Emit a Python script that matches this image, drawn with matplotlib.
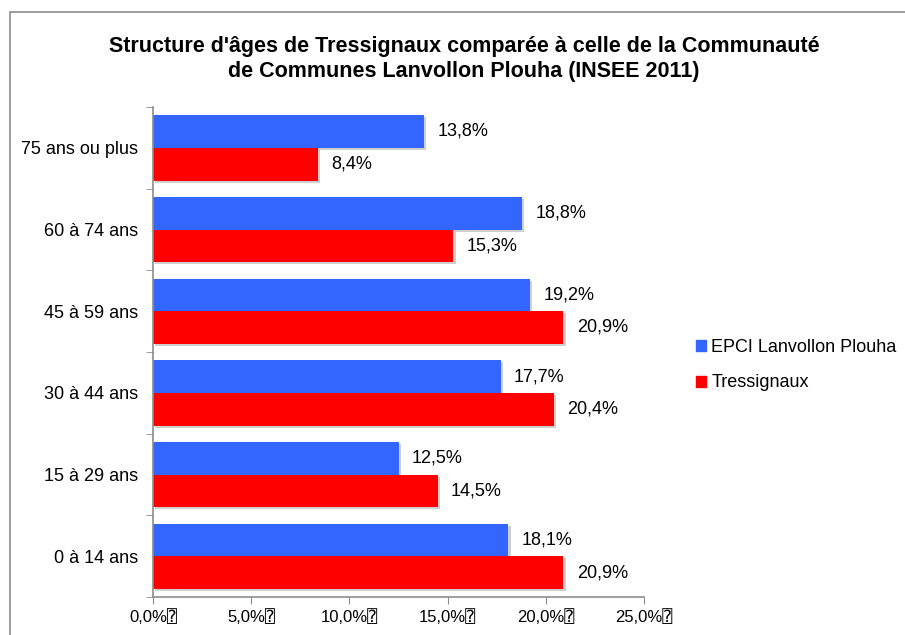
import matplotlib
matplotlib.use("Agg")
import matplotlib.pyplot as plt
import matplotlib.patheffects as pe
from matplotlib.patches import Rectangle
import numpy as np

plt.rcParams['font.family'] = ['Liberation Sans', 'DejaVu Sans', 'DejaVu Sans Mono']

categories = ["0 à 14 ans", "15 à 29 ans", "30 à 44 ans", "45 à 59 ans", "60 à 74 ans", "75 ans ou plus"]
epci = [18.1, 12.5, 17.7, 19.2, 18.8, 13.8]
tress = [20.9, 14.5, 20.4, 20.9, 15.3, 8.4]
series_names = ["EPCI Lanvollon Plouha", "Tressignaux"]
xticks = [0, 5, 10, 15, 20, 25]
xticklabels = ["0,0%\u2370", "5,0%\u2370", "10,0%\u2370", "15,0%\u2370", "20,0%\u2370", "25,0%\u2370"]
title = "Structure d'âges de Tressignaux comparée à celle de la Communauté\nde Communes Lanvollon Plouha (INSEE 2011)"

W, H = 905, 635
fig = plt.figure(figsize=(W / 100, H / 100), dpi=100)
fig.patch.set_facecolor("white")
fig.patches.append(Rectangle((10 / W, -0.1), 1.2, 1 - 12 / H + 0.1, transform=fig.transFigure,
                             fill=False, edgecolor="#8c8c8c", linewidth=1.2))

ax = fig.add_axes([153 / W, 1 - 597 / H, (644 - 153) / W, (597 - 107) / H])
y = np.arange(len(categories))
h = 0.4
shadow = [pe.SimplePatchShadow(offset=(1.5, -1.5), shadow_rgbFace="#b0b0b0", alpha=0.6), pe.Normal()]
b1 = ax.barh(y + h / 2, epci, height=h, color="#3366ff", label=series_names[0], path_effects=shadow)
b2 = ax.barh(y - h / 2, tress, height=h, color="#ff0000", label=series_names[1], path_effects=shadow)

for bars, vals in ((b1, epci), (b2, tress)):
    for bar, v in zip(bars, vals):
        ax.annotate(f"{v:.1f}%".replace(".", ","), (bar.get_width(), bar.get_y() + bar.get_height() / 2),
                    xytext=(9.5, 0), textcoords="offset points", va="center", ha="left", fontsize=13)

ax.set_xlim(0, 25)
ax.set_ylim(-0.5, len(categories) - 0.5)
ax.set_xticks(xticks)
ax.set_xticklabels(xticklabels, fontsize=12)
ax.set_yticks(y)
ax.set_yticklabels(categories, fontsize=13)
ax.set_yticks(np.arange(-0.5, len(categories), 1), minor=True)
ax.tick_params(axis="y", which="major", length=0, pad=10.5)
ax.tick_params(axis="y", which="minor", length=5, color="#8c8c8c")
ax.tick_params(axis="x", length=5, color="#8c8c8c", pad=4)
for s in ("top", "right"):
    ax.spines[s].set_visible(False)
for s in ("left", "bottom"):
    ax.spines[s].set_color("#8c8c8c")
    ax.spines[s].set_linewidth(1.2)

fig.text(464 / W, 1 - 59 / H, title, ha="center", va="center", fontsize=15.5, fontweight="bold", linespacing=1.3)

handles = [Rectangle((0, 0), 1, 1, color="#3366ff"), Rectangle((0, 0), 1, 1, color="#ff0000")]
fig.legend(handles, series_names, loc="center left", bbox_to_anchor=(696 / W, 1 - 365 / H),
           frameon=False, fontsize=13, handlelength=0.55, handleheight=0.55, handletextpad=0.3,
           labelspacing=1.05, borderaxespad=0, borderpad=0)

fig.savefig("out.png", dpi=100, facecolor="white")
